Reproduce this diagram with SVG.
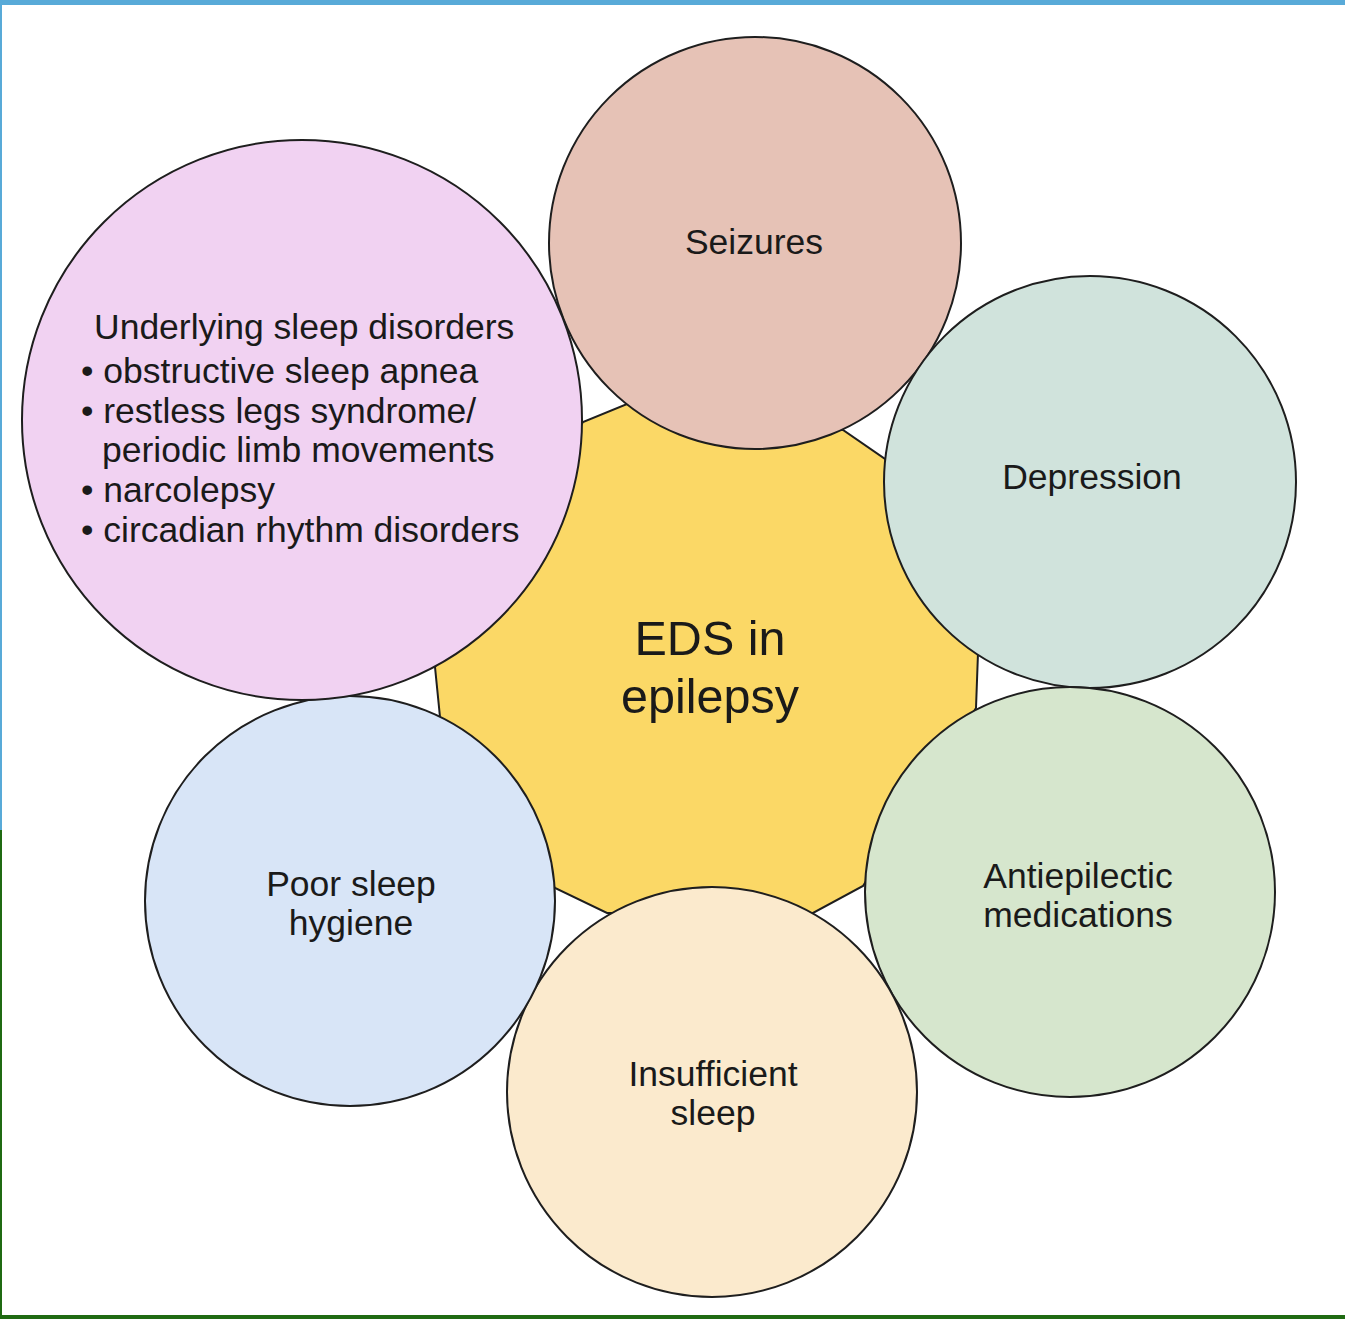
<svg xmlns="http://www.w3.org/2000/svg" width="1345" height="1319" viewBox="0 0 1345 1319">
  <style>
    .ring { stroke: #1e1e1e; stroke-width: 2; }
    .label { font-family: "Liberation Sans", Arial, sans-serif; font-size: 35.5px; fill: #1a1a1a; text-anchor: middle; }
    .list { font-family: "Liberation Sans", Arial, sans-serif; font-size: 35.5px; fill: #1a1a1a; }
    .title { font-family: "Liberation Sans", Arial, sans-serif; font-size: 48.5px; fill: #1a1a1a; text-anchor: middle; }
  </style>

  <!-- page and frame -->
  <rect x="0" y="0" width="1345" height="1319" fill="#ffffff"/>
  <rect x="0" y="0" width="1345" height="5" fill="#58aad8"/>
  <rect x="0" y="0" width="2" height="830" fill="#58aad8"/>
  <rect x="0" y="830" width="2" height="489" fill="#1f6a12"/>
  <rect x="0" y="1315" width="1345" height="4" fill="#1f6a12"/>

  <!-- centre hexagon -->
  <g id="eds-center">
    <path class="ring" fill="#fbd866" d="M627,404 L843,430 L885,459 L978,653 L976,708 L863,886 L813,913 L607,913 L555,888 L440,717 L435,667 L583,422 Z"/>
  </g>

  <g id="seizures">
    <circle class="ring" cx="755" cy="243" r="206" fill="#e6c2b6"/>
    <text class="label" x="754" y="254">Seizures</text>
  </g>

  <g id="depression">
    <circle class="ring" cx="1090" cy="482" r="206" fill="#d0e3dc"/>
    <text class="label" x="1092" y="489">Depression</text>
  </g>

  <g id="antiepileptic">
    <circle class="ring" cx="1070" cy="892" r="205" fill="#d6e6cd"/>
    <text class="label" x="1078" y="888">Antiepilectic</text>
    <text class="label" x="1078" y="927">medications</text>
  </g>

  <g id="insufficient-sleep">
    <circle class="ring" cx="712" cy="1092" r="205" fill="#fbeacd"/>
    <text class="label" x="713" y="1086">Insufficient</text>
    <text class="label" x="713" y="1125">sleep</text>
  </g>

  <g id="poor-sleep-hygiene">
    <circle class="ring" cx="350" cy="901" r="205" fill="#d8e5f7"/>
    <text class="label" x="351" y="896">Poor sleep</text>
    <text class="label" x="351" y="935">hygiene</text>
  </g>

  <g id="sleep-disorders">
    <circle class="ring" cx="302" cy="420" r="280" fill="#f1d2f2"/>
    <text class="list" x="94" y="339">Underlying sleep disorders</text>
    <text class="list" x="81" y="383">• obstructive sleep apnea</text>
    <text class="list" x="81" y="423">• restless legs syndrome/</text>
    <text class="list" x="102" y="462">periodic limb movements</text>
    <text class="list" x="81" y="502">• narcolepsy</text>
    <text class="list" x="81" y="542">• circadian rhythm disorders</text>
  </g>

  <g id="eds-label">
    <text class="title" x="710" y="655">EDS in</text>
    <text class="title" x="710" y="713">epilepsy</text>
  </g>

  <g id="connectors"></g>
</svg>
